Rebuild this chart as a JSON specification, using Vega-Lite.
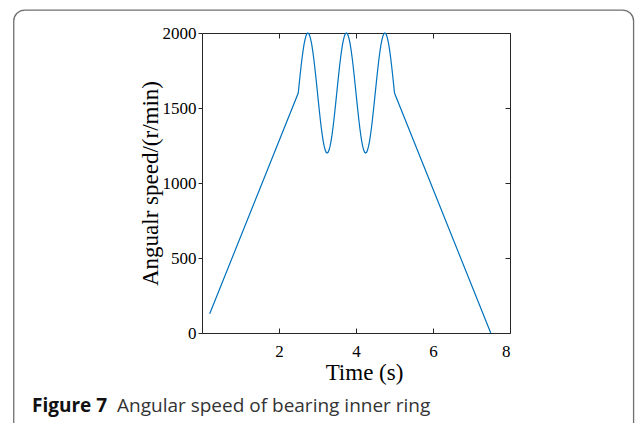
{
  "$schema": "https://vega.github.io/schema/vega-lite/v6.json",
  "width": 308,
  "height": 300,
  "autosize": {"type": "none"},
  "padding": {"left": 202, "top": 33, "right": 127, "bottom": 90},
  "background": "white",
  "config": {
    "view": {"stroke": "#262626", "strokeWidth": 1},
    "axis": {
      "labelFont": "Liberation Serif",
      "titleFont": "Liberation Serif",
      "labelColor": "#000000",
      "titleColor": "#000000",
      "tickColor": "#262626",
      "labelFontSize": 17,
      "titleFontSize": 23,
      "titleFontWeight": "normal",
      "grid": false,
      "domain": false
    }
  },
  "resolve": {"axis": {"x": "independent", "y": "independent"}},
  "data": {"values": [
    {"t": 0.2, "v": 128},
    {"t": 2.5, "v": 1600},
    {"t": 2.525, "v": 1662.6},
    {"t": 2.55, "v": 1723.6},
    {"t": 2.575, "v": 1781.6},
    {"t": 2.6, "v": 1835.1},
    {"t": 2.625, "v": 1882.8},
    {"t": 2.65, "v": 1923.6},
    {"t": 2.675, "v": 1956.4},
    {"t": 2.7, "v": 1980.4},
    {"t": 2.725, "v": 1995.1},
    {"t": 2.75, "v": 2000},
    {"t": 2.775, "v": 1995.1},
    {"t": 2.8, "v": 1980.4},
    {"t": 2.825, "v": 1956.4},
    {"t": 2.85, "v": 1923.6},
    {"t": 2.875, "v": 1882.8},
    {"t": 2.9, "v": 1835.1},
    {"t": 2.925, "v": 1781.6},
    {"t": 2.95, "v": 1723.6},
    {"t": 2.975, "v": 1662.6},
    {"t": 3.0, "v": 1600},
    {"t": 3.025, "v": 1537.4},
    {"t": 3.05, "v": 1476.4},
    {"t": 3.075, "v": 1418.4},
    {"t": 3.1, "v": 1364.9},
    {"t": 3.125, "v": 1317.2},
    {"t": 3.15, "v": 1276.4},
    {"t": 3.175, "v": 1243.6},
    {"t": 3.2, "v": 1219.6},
    {"t": 3.225, "v": 1204.9},
    {"t": 3.25, "v": 1200},
    {"t": 3.275, "v": 1204.9},
    {"t": 3.3, "v": 1219.6},
    {"t": 3.325, "v": 1243.6},
    {"t": 3.35, "v": 1276.4},
    {"t": 3.375, "v": 1317.2},
    {"t": 3.4, "v": 1364.9},
    {"t": 3.425, "v": 1418.4},
    {"t": 3.45, "v": 1476.4},
    {"t": 3.475, "v": 1537.4},
    {"t": 3.5, "v": 1600},
    {"t": 3.525, "v": 1662.6},
    {"t": 3.55, "v": 1723.6},
    {"t": 3.575, "v": 1781.6},
    {"t": 3.6, "v": 1835.1},
    {"t": 3.625, "v": 1882.8},
    {"t": 3.65, "v": 1923.6},
    {"t": 3.675, "v": 1956.4},
    {"t": 3.7, "v": 1980.4},
    {"t": 3.725, "v": 1995.1},
    {"t": 3.75, "v": 2000},
    {"t": 3.775, "v": 1995.1},
    {"t": 3.8, "v": 1980.4},
    {"t": 3.825, "v": 1956.4},
    {"t": 3.85, "v": 1923.6},
    {"t": 3.875, "v": 1882.8},
    {"t": 3.9, "v": 1835.1},
    {"t": 3.925, "v": 1781.6},
    {"t": 3.95, "v": 1723.6},
    {"t": 3.975, "v": 1662.6},
    {"t": 4.0, "v": 1600},
    {"t": 4.025, "v": 1537.4},
    {"t": 4.05, "v": 1476.4},
    {"t": 4.075, "v": 1418.4},
    {"t": 4.1, "v": 1364.9},
    {"t": 4.125, "v": 1317.2},
    {"t": 4.15, "v": 1276.4},
    {"t": 4.175, "v": 1243.6},
    {"t": 4.2, "v": 1219.6},
    {"t": 4.225, "v": 1204.9},
    {"t": 4.25, "v": 1200},
    {"t": 4.275, "v": 1204.9},
    {"t": 4.3, "v": 1219.6},
    {"t": 4.325, "v": 1243.6},
    {"t": 4.35, "v": 1276.4},
    {"t": 4.375, "v": 1317.2},
    {"t": 4.4, "v": 1364.9},
    {"t": 4.425, "v": 1418.4},
    {"t": 4.45, "v": 1476.4},
    {"t": 4.475, "v": 1537.4},
    {"t": 4.5, "v": 1600},
    {"t": 4.525, "v": 1662.6},
    {"t": 4.55, "v": 1723.6},
    {"t": 4.575, "v": 1781.6},
    {"t": 4.6, "v": 1835.1},
    {"t": 4.625, "v": 1882.8},
    {"t": 4.65, "v": 1923.6},
    {"t": 4.675, "v": 1956.4},
    {"t": 4.7, "v": 1980.4},
    {"t": 4.725, "v": 1995.1},
    {"t": 4.75, "v": 2000},
    {"t": 4.775, "v": 1995.1},
    {"t": 4.8, "v": 1980.4},
    {"t": 4.825, "v": 1956.4},
    {"t": 4.85, "v": 1923.6},
    {"t": 4.875, "v": 1882.8},
    {"t": 4.9, "v": 1835.1},
    {"t": 4.925, "v": 1781.6},
    {"t": 4.95, "v": 1723.6},
    {"t": 4.975, "v": 1662.6},
    {"t": 5.0, "v": 1600},
    {"t": 7.5, "v": 0}
  ]},
  "layer": [
    {
      "data": {"values": [{}]},
      "mark": {"type": "rect", "filled": false, "stroke": "#707070", "strokeWidth": 1.3, "cornerRadius": 11, "clip": false},
      "encoding": {
        "x": {"datum": -4.89, "type": "quantitative", "scale": {"domain": [0, 8], "nice": false, "zero": false}, "axis": null},
        "x2": {"datum": 11.21},
        "y": {"datum": 2153, "type": "quantitative", "scale": {"domain": [0, 2000], "nice": false, "zero": false}, "axis": null},
        "y2": {"datum": -713}
      }
    },
    {
      "mark": {"type": "line", "color": "#0072BD", "strokeWidth": 1.2, "clip": false},
      "encoding": {
        "x": {"field": "t", "type": "quantitative",
          "axis": {"orient": "bottom", "values": [2, 4, 6, 8], "tickSize": -5, "labelPadding": 15, "title": "Time (s)", "titleX": 162, "titleY": 46, "titleBaseline": "alphabetic"}},
        "y": {"field": "v", "type": "quantitative",
          "axis": {"orient": "left", "values": [0, 500, 1000, 1500, 2000], "format": "d", "tickSize": 4, "labelPadding": 2, "title": "Angualr speed/(r/min)", "titleX": -45, "titleY": 150, "titleBaseline": "alphabetic"}}
      }
    },
    {
      "mark": {"type": "line", "strokeOpacity": 0},
      "encoding": {
        "x": {"field": "t", "type": "quantitative",
          "axis": {"orient": "top", "values": [2, 4, 6, 8], "tickSize": -5, "labels": false, "title": null}},
        "y": {"field": "v", "type": "quantitative",
          "axis": {"orient": "right", "values": [500, 1000, 1500], "tickSize": -5, "labels": false, "title": null}}
      }
    },
    {
      "data": {"values": [{}]},
      "mark": {"type": "text", "text": "Figure 7", "font": "Open Sans", "fontWeight": "bold", "fontSize": 19, "align": "left", "baseline": "alphabetic", "color": "#111111", "clip": false},
      "encoding": {
        "x": {"datum": -4.416, "type": "quantitative", "axis": null},
        "y": {"datum": -527, "type": "quantitative", "axis": null}
      }
    },
    {
      "data": {"values": [{}]},
      "mark": {"type": "text", "text": "Angular speed of bearing inner ring", "font": "Open Sans", "fontSize": 19, "align": "left", "baseline": "alphabetic", "color": "#333333", "clip": false},
      "encoding": {
        "x": {"datum": -2.208, "type": "quantitative", "axis": null},
        "y": {"datum": -527, "type": "quantitative", "axis": null}
      }
    }
  ]
}
